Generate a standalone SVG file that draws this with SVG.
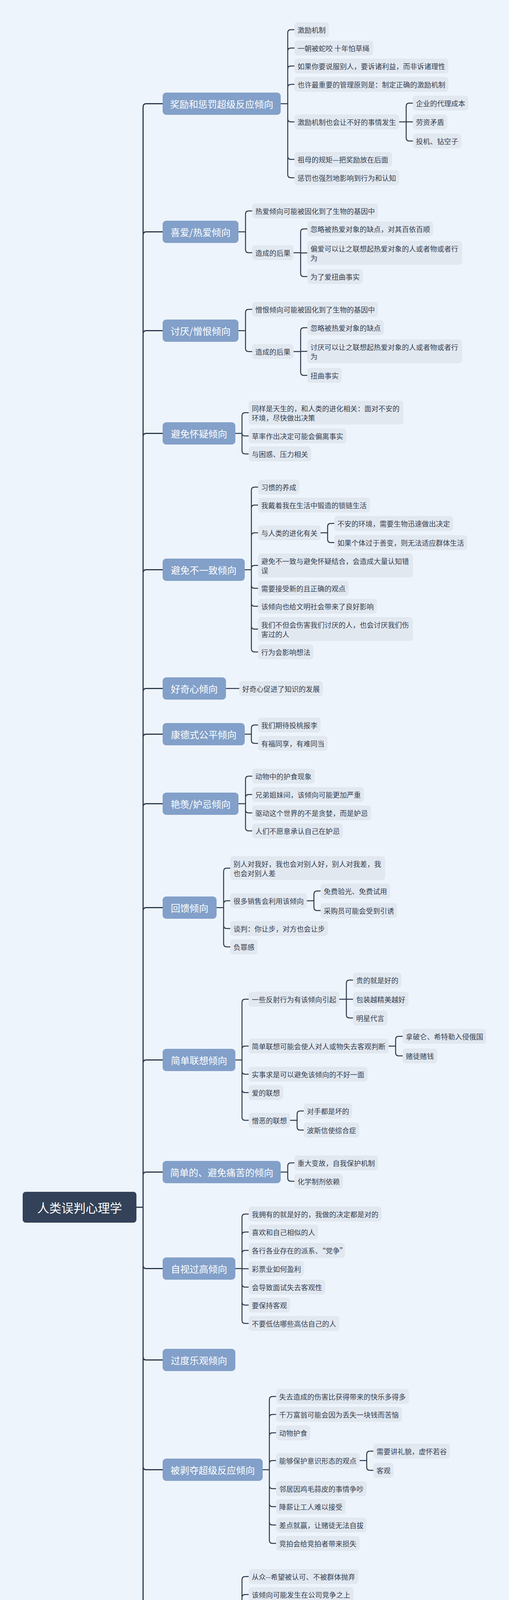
<svg xmlns="http://www.w3.org/2000/svg" width="1302" height="6000" viewBox="0 0 1302 6000">
<style>
text{font-family:"Noto Sans CJK SC","Noto Sans",sans-serif;dominant-baseline:central}
.bg{fill:#eef4fb}
.root{fill:#334258}
.m{fill:#82a0c9}
.c{fill:#e2e8f0}
.rt{font-size:31px;fill:#ffffff;text-anchor:middle}
.mt{font-size:24px;fill:#ffffff;text-anchor:middle}
.ct{font-size:18px;fill:#333f50}
.tr{fill:none;stroke:#2c3a4d;stroke-width:3}
.ln{fill:none;stroke:#2c3a4d;stroke-width:2.5}
</style>
<rect class="bg" x="0" y="0" width="1302" height="6000"/>
<g id="connectors">
<path class="tr" d="M349,3090.5H366 M366,3090.5V273.5Q366,265.5 374,265.5H416 M366,3090.5V601.5Q366,593.5 374,593.5H416 M366,3090.5V854.5Q366,846.5 374,846.5H416 M366,3090.5V1117.5Q366,1109.5 374,1109.5H416 M366,3090.5V1466.5Q366,1458.5 374,1458.5H416 M366,3090.5V1770.5Q366,1762.5 374,1762.5H416 M366,3090.5V1887.5Q366,1879.5 374,1879.5H416 M366,3090.5V2065.5Q366,2057.5 374,2057.5H416 M366,3090.5V2331.5Q366,2323.5 374,2323.5H416 M366,3090.5V2721.5Q366,2713.5 374,2713.5H416 M366,3090.5V3008.5Q366,3000.5 374,3000.5H416 M366,3090.5V3239.5Q366,3247.5 374,3247.5H416 M366,3090.5V3473.5Q366,3481.5 374,3481.5H416 M366,3090.5V3754.5Q366,3762.5 374,3762.5H416 M366,3090.5V4216.5Q366,4224.5 374,4224.5H416 M366,3090.5V4550.5Q366,4558.5 374,4558.5H416 M366,3090.5V4717.5Q366,4725.5 374,4725.5H416 M366,3090.5V4877.5Q366,4885.5 374,4885.5H416 M366,3090.5V5026.5Q366,5034.5 374,5034.5H416 M366,3090.5V5143.5Q366,5151.5 374,5151.5H416 M366,3090.5V5245.5Q366,5253.5 374,5253.5H416 M366,3090.5V5399.5Q366,5407.5 374,5407.5H416 M366,3090.5V5626.5Q366,5634.5 374,5634.5H416 M366,3090.5V5766.5Q366,5774.5 374,5774.5H416 M366,3090.5V5907.5Q366,5915.5 374,5915.5H416"/>
<path class="ln" d="M718,265.5H736 M736,265.5V84Q736,76 744,76H753 M736,265.5V131Q736,123 744,123H753 M736,265.5V177Q736,169 744,169H753 M736,265.5V224Q736,216 744,216H753 M736,265.5V304Q736,312 744,312H753 M736,265.5V400Q736,408 744,408H753 M736,265.5V447Q736,455 744,455H753"/>
<path class="ln" d="M1021,312H1039 M1039,312V272Q1039,264 1047,264H1056 M1039,312H1056 M1039,312V353Q1039,361 1047,361H1056"/>
<path class="ln" d="M610,593.5H628 M628,593.5V548Q628,540 636,540H645 M628,593.5V639Q628,647 636,647H645"/>
<path class="ln" d="M751,647H769 M769,647V594Q769,586 777,586H786 M769,647.5H786 M769,647V700Q769,708 777,708H786"/>
<path class="ln" d="M610,846.5H628 M628,846.5V800Q628,792 636,792H645 M628,846.5V892Q628,900 636,900H645"/>
<path class="ln" d="M751,900H769 M769,900V847Q769,839 777,839H786 M769,899.5H786 M769,900V953Q769,961 777,961H786"/>
<path class="ln" d="M602,1109.5H619 M619,1109.5V1064.5Q619,1056.5 627,1056.5H636 M619,1109.5Q619,1116 627,1116H636 M619,1109.5V1154Q619,1162 627,1162H636"/>
<path class="ln" d="M626,1458.5H643 M643,1458.5V1255Q643,1247 651,1247H660 M643,1458.5V1301Q643,1293 651,1293H660 M643,1458.5V1372Q643,1364 651,1364H660 M643,1458.5V1455.5Q643,1447.5 651,1447.5H660 M643,1458.5V1498Q643,1506 651,1506H660 M643,1458.5V1544Q643,1552 651,1552H660 M643,1458.5V1602.5Q643,1610.5 651,1610.5H660 M643,1458.5V1661Q643,1669 651,1669H660"/>
<path class="ln" d="M820,1364H838 M838,1364V1348Q838,1340 846,1340H855 M838,1364V1381Q838,1389 846,1389H855"/>
<path class="ln" d="M578,1762.5H612"/>
<path class="ln" d="M626,1879.5H643 M643,1879.5V1864Q643,1856 651,1856H660 M643,1879.5V1895Q643,1903 651,1903H660"/>
<path class="ln" d="M610,2057.5H628 M628,2057.5V1995Q628,1987 636,1987H645 M628,2057.5V2042Q628,2034 636,2034H645 M628,2057.5V2073Q628,2081 636,2081H645 M628,2057.5V2119Q628,2127 636,2127H645"/>
<path class="ln" d="M554,2323.5H572 M572,2323.5V2230.5Q572,2222.5 580,2222.5H589 M572,2323.5V2314Q572,2306 580,2306H589 M572,2323.5V2369Q572,2377 580,2377H589 M572,2323.5V2416Q572,2424 580,2424H589"/>
<path class="ln" d="M785,2306H803 M803,2306V2289Q803,2281 811,2281H820 M803,2306V2323Q803,2331 811,2331H820"/>
<path class="ln" d="M602,2713.5H619 M619,2713.5V2566Q619,2558 627,2558H636 M619,2713.5V2686Q619,2678 627,2678H636 M619,2713.5V2742Q619,2750 627,2750H636 M619,2713.5V2789Q619,2797 627,2797H636 M619,2713.5V2860Q619,2868 627,2868H636"/>
<path class="ln" d="M868,2558H886 M886,2558V2517Q886,2509 894,2509H903 M886,2558H903 M886,2558V2598Q886,2606 894,2606H903"/>
<path class="ln" d="M994,2678H1012 M1012,2678V2661Q1012,2653 1020,2653H1030 M1012,2678V2695Q1012,2703 1020,2703H1030"/>
<path class="ln" d="M742,2868H760 M760,2868V2852Q760,2844 768,2844H777 M760,2868V2885Q760,2893 768,2893H777"/>
<path class="ln" d="M718,3000.5H736 M736,3000.5V2985Q736,2977 744,2977H753 M736,3000.5V3016Q736,3024 744,3024H753"/>
<path class="ln" d="M602,3247.5H619 M619,3247.5V3116Q619,3108 627,3108H636 M619,3247.5V3162Q619,3154 627,3154H636 M619,3247.5V3209Q619,3201 627,3201H636 M619,3248H636 M619,3247.5V3287Q619,3295 627,3295H636 M619,3247.5V3333Q619,3341 627,3341H636 M619,3247.5V3380Q619,3388 627,3388H636"/>
<path class="ln" d="M672,3762.5H689 M689,3762.5V3583Q689,3575 697,3575H706 M689,3762.5V3629Q689,3621 697,3621H706 M689,3762.5V3676Q689,3668 697,3668H706 M689,3762.5V3747Q689,3739 697,3739H706 M689,3762.5V3803Q689,3811 697,3811H706 M689,3762.5V3849Q689,3857 697,3857H706 M689,3762.5V3896Q689,3904 697,3904H706 M689,3762.5V3943Q689,3951 697,3951H706"/>
<path class="ln" d="M920,3739H938 M938,3739V3723Q938,3715 946,3715H955 M938,3739V3756Q938,3764 946,3764H955"/>
<path class="ln" d="M602,4224.5H619 M619,4224.5V4044Q619,4036 627,4036H636 M619,4224.5V4090Q619,4082 627,4082H636 M619,4224.5V4161Q619,4153 627,4153H636 M619,4224H636 M619,4224.5V4288Q619,4296 627,4296H636 M619,4224.5V4359Q619,4367 627,4367H636 M619,4224.5V4406Q619,4414 627,4414H636"/>
<path class="ln" d="M886,4153H904 M904,4153V4137Q904,4129 912,4129H921 M904,4153V4170Q904,4178 912,4178H921"/>
<path class="ln" d="M940,4224H975"/>
<path class="ln" d="M814,4296H832 M832,4296V4279Q832,4271 840,4271H849 M832,4296V4312Q832,4320 840,4320H849"/>
<path class="ln" d="M648,4558.5H666 M666,4558.5V4531Q666,4523 674,4523H684 M666,4558.5V4586Q666,4594 674,4594H684"/>
<path class="ln" d="M988,4523H1006 M1006,4523V4506Q1006,4498 1014,4498H1023 M1006,4523V4540Q1006,4548 1014,4548H1023"/>
<path class="ln" d="M602,4725.5H619 M619,4725.5V4687Q619,4679 627,4679H636 M619,4726H636 M619,4725.5V4765Q619,4773 627,4773H636"/>
<path class="ln" d="M672,4885.5H689 M689,4885.5V4864Q689,4856 697,4856H706 M689,4885.5V4906.5Q689,4914.5 697,4914.5H706"/>
<path class="ln" d="M602,5034.5H619 M619,5034.5V5019Q619,5011 627,5011H636 M619,5034.5V5050Q619,5058 627,5058H636"/>
<path class="ln" d="M671,5407.5H689 M689,5407.5V5355Q689,5347 697,5347H706 M689,5407.5V5460Q689,5468 697,5468H706"/>
<path class="ln" d="M884,5468H902 M902,5468V5402Q902,5394 910,5394H919 M902,5468V5451Q902,5443 910,5443H919 M902,5468V5484Q902,5492 910,5492H919 M902,5468V5533Q902,5541 910,5541H919"/>
<path class="ln" d="M554,5634.5H589"/>
<path class="ln" d="M602,5774.5H619 M619,5774.5V5736Q619,5728 627,5728H636 M619,5775H636 M619,5774.5V5813Q619,5821 627,5821H636"/>
</g>

<g id="root"><rect class="root" x="58" y="3051" width="291" height="79" rx="8"/><text class="rt" x="203.5" y="3090.5">人类误判心理学</text></g>

<g id="m1"><rect class="m" x="416" y="237" width="302" height="57" rx="9"/><text class="mt" x="567" y="265.5">奖励和惩罚超级反应倾向</text></g>
<g id="m1-1"><rect class="c" x="753" y="57" width="88" height="38" rx="8"/><text class="ct" x="761" y="76">激励机制</text></g>
<g id="m1-2"><rect class="c" x="753" y="104" width="202" height="38" rx="8"/><text class="ct" x="761" y="123">一朝被蛇咬 十年怕草绳</text></g>
<g id="m1-3"><rect class="c" x="753" y="150" width="394" height="38" rx="8"/><text class="ct" x="761" y="169">如果你要说服别人，要诉诸利益，而非诉诸理性</text></g>
<g id="m1-4"><rect class="c" x="753" y="197" width="394" height="38" rx="8"/><text class="ct" x="761" y="216">也许最重要的管理原则是：制定正确的激励机制</text></g>
<g id="m1-5"><rect class="c" x="753" y="293" width="268" height="38" rx="8"/><text class="ct" x="761" y="312">激励机制也会让不好的事情发生</text></g>
<g id="m1-5-1"><rect class="c" x="1056" y="245" width="142" height="38" rx="8"/><text class="ct" x="1064" y="264">企业的代理成本</text></g>
<g id="m1-5-2"><rect class="c" x="1056" y="293" width="88" height="38" rx="8"/><text class="ct" x="1064" y="312">劳资矛盾</text></g>
<g id="m1-5-3"><rect class="c" x="1056" y="342" width="124" height="38" rx="8"/><text class="ct" x="1064" y="361">投机、钻空子</text></g>
<g id="m1-6"><rect class="c" x="753" y="389" width="250" height="38" rx="8"/><text class="ct" x="761" y="408">祖母的规矩—把奖励放在后面</text></g>
<g id="m1-7"><rect class="c" x="753" y="436" width="268" height="38" rx="8"/><text class="ct" x="761" y="455">惩罚也强烈地影响到行为和认知</text></g>

<g id="m2"><rect class="m" x="416" y="565" width="194" height="57" rx="9"/><text class="mt" x="513" y="593.5">喜爱/热爱倾向</text></g>
<g id="m2-1"><rect class="c" x="645" y="521" width="322" height="38" rx="8"/><text class="ct" x="653" y="540">热爱倾向可能被固化到了生物的基因中</text></g>
<g id="m2-2"><rect class="c" x="645" y="628" width="106" height="38" rx="8"/><text class="ct" x="653" y="647">造成的后果</text></g>
<g id="m2-2-1"><rect class="c" x="786" y="567" width="322" height="38" rx="8"/><text class="ct" x="794" y="586">忽略被热爱对象的缺点，对其百依百顺</text></g>
<g id="m2-2-2"><rect class="c" x="786" y="617" width="396" height="61" rx="8"/><text class="ct" x="794" y="636">偏爱可以让之联想起热爱对象的人或者物或者行</text><text class="ct" x="794" y="660">为</text></g>
<g id="m2-2-3"><rect class="c" x="786" y="689" width="142" height="38" rx="8"/><text class="ct" x="794" y="708">为了爱扭曲事实</text></g>

<g id="m3"><rect class="m" x="416" y="818" width="194" height="57" rx="9"/><text class="mt" x="513" y="846.5">讨厌/憎恨倾向</text></g>
<g id="m3-1"><rect class="c" x="645" y="773" width="322" height="38" rx="8"/><text class="ct" x="653" y="792">憎恨倾向可能被固化到了生物的基因中</text></g>
<g id="m3-2"><rect class="c" x="645" y="881" width="106" height="38" rx="8"/><text class="ct" x="653" y="900">造成的后果</text></g>
<g id="m3-2-1"><rect class="c" x="786" y="820" width="196" height="38" rx="8"/><text class="ct" x="794" y="839">忽略被热爱对象的缺点</text></g>
<g id="m3-2-2"><rect class="c" x="786" y="869" width="396" height="61" rx="8"/><text class="ct" x="794" y="888">讨厌可以让之联想起热爱对象的人或者物或者行</text><text class="ct" x="794" y="912">为</text></g>
<g id="m3-2-3"><rect class="c" x="786" y="942" width="88" height="38" rx="8"/><text class="ct" x="794" y="961">扭曲事实</text></g>

<g id="m4"><rect class="m" x="416" y="1081" width="186" height="57" rx="9"/><text class="mt" x="509" y="1109.5">避免怀疑倾向</text></g>
<g id="m4-1"><rect class="c" x="636" y="1026" width="396" height="61" rx="8"/><text class="ct" x="644" y="1045">同样是天生的，和人类的进化相关：面对不安的</text><text class="ct" x="644" y="1069">环境，尽快做出决策</text></g>
<g id="m4-2"><rect class="c" x="636" y="1097" width="250" height="38" rx="8"/><text class="ct" x="644" y="1116">草率作出决定可能会偏离事实</text></g>
<g id="m4-3"><rect class="c" x="636" y="1143" width="160" height="38" rx="8"/><text class="ct" x="644" y="1162">与困惑、压力相关</text></g>

<g id="m5"><rect class="m" x="416" y="1430" width="210" height="57" rx="9"/><text class="mt" x="521" y="1458.5">避免不一致倾向</text></g>
<g id="m5-1"><rect class="c" x="660" y="1228" width="106" height="38" rx="8"/><text class="ct" x="668" y="1247">习惯的养成</text></g>
<g id="m5-2"><rect class="c" x="660" y="1274" width="286" height="38" rx="8"/><text class="ct" x="668" y="1293">我戴着我在生活中锻造的锁链生活</text></g>
<g id="m5-3"><rect class="c" x="660" y="1345" width="160" height="38" rx="8"/><text class="ct" x="668" y="1364">与人类的进化有关</text></g>
<g id="m5-3-1"><rect class="c" x="855" y="1321" width="304" height="38" rx="8"/><text class="ct" x="863" y="1340">不安的环境，需要生物迅速做出决定</text></g>
<g id="m5-3-2"><rect class="c" x="855" y="1370" width="340" height="38" rx="8"/><text class="ct" x="863" y="1389">如果个体过于善变，则无法适应群体生活</text></g>
<g id="m5-4"><rect class="c" x="660" y="1417" width="396" height="61" rx="8"/><text class="ct" x="668" y="1436">避免不一致与避免怀疑结合，会造成大量认知错</text><text class="ct" x="668" y="1460">误</text></g>
<g id="m5-5"><rect class="c" x="660" y="1487" width="232" height="38" rx="8"/><text class="ct" x="668" y="1506">需要接受新的且正确的观点</text></g>
<g id="m5-6"><rect class="c" x="660" y="1533" width="304" height="38" rx="8"/><text class="ct" x="668" y="1552">该倾向也给文明社会带来了良好影响</text></g>
<g id="m5-7"><rect class="c" x="660" y="1580" width="396" height="61" rx="8"/><text class="ct" x="668" y="1599">我们不但会伤害我们讨厌的人，也会讨厌我们伤</text><text class="ct" x="668" y="1623">害过的人</text></g>
<g id="m5-8"><rect class="c" x="660" y="1650" width="142" height="38" rx="8"/><text class="ct" x="668" y="1669">行为会影响想法</text></g>

<g id="m6"><rect class="m" x="416" y="1734" width="162" height="57" rx="9"/><text class="mt" x="497" y="1762.5">好奇心倾向</text></g>
<g id="m6-1"><rect class="c" x="612" y="1744" width="214" height="38" rx="8"/><text class="ct" x="620" y="1763">好奇心促进了知识的发展</text></g>

<g id="m7"><rect class="m" x="416" y="1851" width="210" height="57" rx="9"/><text class="mt" x="521" y="1879.5">康德式公平倾向</text></g>
<g id="m7-1"><rect class="c" x="660" y="1837" width="160" height="38" rx="8"/><text class="ct" x="668" y="1856">我们期待投桃报李</text></g>
<g id="m7-2"><rect class="c" x="660" y="1884" width="178" height="38" rx="8"/><text class="ct" x="668" y="1903">有福同享，有难同当</text></g>

<g id="m8"><rect class="m" x="416" y="2029" width="194" height="57" rx="9"/><text class="mt" x="513" y="2057.5">艳羡/妒忌倾向</text></g>
<g id="m8-1"><rect class="c" x="645" y="1968" width="160" height="38" rx="8"/><text class="ct" x="653" y="1987">动物中的护食现象</text></g>
<g id="m8-2"><rect class="c" x="645" y="2015" width="286" height="38" rx="8"/><text class="ct" x="653" y="2034">兄弟姐妹间，该倾向可能更加严重</text></g>
<g id="m8-3"><rect class="c" x="645" y="2062" width="304" height="38" rx="8"/><text class="ct" x="653" y="2081">驱动这个世界的不是贪婪，而是妒忌</text></g>
<g id="m8-4"><rect class="c" x="645" y="2108" width="232" height="38" rx="8"/><text class="ct" x="653" y="2127">人们不愿意承认自己在妒忌</text></g>

<g id="m9"><rect class="m" x="416" y="2295" width="138" height="57" rx="9"/><text class="mt" x="485" y="2323.5">回馈倾向</text></g>
<g id="m9-1"><rect class="c" x="589" y="2192" width="396" height="61" rx="8"/><text class="ct" x="597" y="2211">别人对我好，我也会对别人好，别人对我差，我</text><text class="ct" x="597" y="2235">也会对别人差</text></g>
<g id="m9-2"><rect class="c" x="589" y="2287" width="196" height="38" rx="8"/><text class="ct" x="597" y="2306">很多销售会利用该倾向</text></g>
<g id="m9-2-1"><rect class="c" x="820" y="2262" width="178" height="38" rx="8"/><text class="ct" x="828" y="2281">免费验光、免费试用</text></g>
<g id="m9-2-2"><rect class="c" x="820" y="2312" width="196" height="38" rx="8"/><text class="ct" x="828" y="2331">采购员可能会受到引诱</text></g>
<g id="m9-3"><rect class="c" x="589" y="2358" width="250" height="38" rx="8"/><text class="ct" x="597" y="2377">谈判：你让步，对方也会让步</text></g>
<g id="m9-4"><rect class="c" x="589" y="2405" width="70" height="38" rx="8"/><text class="ct" x="597" y="2424">负罪感</text></g>

<g id="m10"><rect class="m" x="416" y="2685" width="186" height="57" rx="9"/><text class="mt" x="509" y="2713.5">简单联想倾向</text></g>
<g id="m10-1"><rect class="c" x="636" y="2539" width="232" height="38" rx="8"/><text class="ct" x="644" y="2558">一些反射行为有该倾向引起</text></g>
<g id="m10-1-1"><rect class="c" x="903" y="2490" width="124" height="38" rx="8"/><text class="ct" x="911" y="2509">贵的就是好的</text></g>
<g id="m10-1-2"><rect class="c" x="903" y="2539" width="142" height="38" rx="8"/><text class="ct" x="911" y="2558">包装越精美越好</text></g>
<g id="m10-1-3"><rect class="c" x="903" y="2587" width="88" height="38" rx="8"/><text class="ct" x="911" y="2606">明星代言</text></g>
<g id="m10-2"><rect class="c" x="636" y="2659" width="358" height="38" rx="8"/><text class="ct" x="644" y="2678">简单联想可能会使人对人或物失去客观判断</text></g>
<g id="m10-2-1"><rect class="c" x="1030" y="2634" width="214" height="38" rx="8"/><text class="ct" x="1038" y="2653">拿破仑、希特勒入侵俄国</text></g>
<g id="m10-2-2"><rect class="c" x="1030" y="2684" width="88" height="38" rx="8"/><text class="ct" x="1038" y="2703">赌徒赌钱</text></g>
<g id="m10-3"><rect class="c" x="636" y="2731" width="304" height="38" rx="8"/><text class="ct" x="644" y="2750">实事求是可以避免该倾向的不好一面</text></g>
<g id="m10-4"><rect class="c" x="636" y="2778" width="88" height="38" rx="8"/><text class="ct" x="644" y="2797">爱的联想</text></g>
<g id="m10-5"><rect class="c" x="636" y="2849" width="106" height="38" rx="8"/><text class="ct" x="644" y="2868">憎恶的联想</text></g>
<g id="m10-5-1"><rect class="c" x="777" y="2825" width="124" height="38" rx="8"/><text class="ct" x="785" y="2844">对手都是坏的</text></g>
<g id="m10-5-2"><rect class="c" x="777" y="2874" width="142" height="38" rx="8"/><text class="ct" x="785" y="2893">波斯信使综合症</text></g>

<g id="m11"><rect class="m" x="416" y="2972" width="302" height="57" rx="9"/><text class="mt" x="567" y="3000.5">简单的、避免痛苦的倾向</text></g>
<g id="m11-1"><rect class="c" x="753" y="2958" width="214" height="38" rx="8"/><text class="ct" x="761" y="2977">重大变故，自我保护机制</text></g>
<g id="m11-2"><rect class="c" x="753" y="3005" width="124" height="38" rx="8"/><text class="ct" x="761" y="3024">化学制剂依赖</text></g>

<g id="m12"><rect class="m" x="416" y="3219" width="186" height="57" rx="9"/><text class="mt" x="509" y="3247.5">自视过高倾向</text></g>
<g id="m12-1"><rect class="c" x="636" y="3089" width="340" height="38" rx="8"/><text class="ct" x="644" y="3108">我拥有的就是好的，我做的决定都是对的</text></g>
<g id="m12-2"><rect class="c" x="636" y="3135" width="178" height="38" rx="8"/><text class="ct" x="644" y="3154">喜欢和自己相似的人</text></g>
<g id="m12-3"><rect class="c" x="636" y="3182" width="246" height="38" rx="8"/><text class="ct" x="644" y="3201">各行各业存在的派系、“党争”</text></g>
<g id="m12-4"><rect class="c" x="636" y="3229" width="142" height="38" rx="8"/><text class="ct" x="644" y="3248">彩票业如何盈利</text></g>
<g id="m12-5"><rect class="c" x="636" y="3276" width="196" height="38" rx="8"/><text class="ct" x="644" y="3295">会导致面试失去客观性</text></g>
<g id="m12-6"><rect class="c" x="636" y="3322" width="106" height="38" rx="8"/><text class="ct" x="644" y="3341">要保持客观</text></g>
<g id="m12-7"><rect class="c" x="636" y="3369" width="232" height="38" rx="8"/><text class="ct" x="644" y="3388">不要低估哪些高估自己的人</text></g>

<g id="m13"><rect class="m" x="416" y="3453" width="186" height="57" rx="9"/><text class="mt" x="509" y="3481.5">过度乐观倾向</text></g>

<g id="m14"><rect class="m" x="416" y="3734" width="256" height="57" rx="9"/><text class="mt" x="544" y="3762.5">被剥夺超级反应倾向</text></g>
<g id="m14-1"><rect class="c" x="706" y="3556" width="340" height="38" rx="8"/><text class="ct" x="714" y="3575">失去造成的伤害比获得带来的快乐多得多</text></g>
<g id="m14-2"><rect class="c" x="706" y="3602" width="322" height="38" rx="8"/><text class="ct" x="714" y="3621">千万富翁可能会因为丢失一块钱而苦恼</text></g>
<g id="m14-3"><rect class="c" x="706" y="3649" width="88" height="38" rx="8"/><text class="ct" x="714" y="3668">动物护食</text></g>
<g id="m14-4"><rect class="c" x="706" y="3720" width="214" height="38" rx="8"/><text class="ct" x="714" y="3739">能够保护意识形态的观点</text></g>
<g id="m14-4-1"><rect class="c" x="955" y="3696" width="196" height="38" rx="8"/><text class="ct" x="963" y="3715">需要讲礼貌，虚怀若谷</text></g>
<g id="m14-4-2"><rect class="c" x="955" y="3745" width="52" height="38" rx="8"/><text class="ct" x="963" y="3764">客观</text></g>
<g id="m14-5"><rect class="c" x="706" y="3792" width="232" height="38" rx="8"/><text class="ct" x="714" y="3811">邻居因鸡毛蒜皮的事情争吵</text></g>
<g id="m14-6"><rect class="c" x="706" y="3838" width="178" height="38" rx="8"/><text class="ct" x="714" y="3857">降薪让工人难以接受</text></g>
<g id="m14-7"><rect class="c" x="706" y="3885" width="232" height="38" rx="8"/><text class="ct" x="714" y="3904">差点就赢，让赌徒无法自拔</text></g>
<g id="m14-8"><rect class="c" x="706" y="3932" width="214" height="38" rx="8"/><text class="ct" x="714" y="3951">竞拍会给竞拍者带来损失</text></g>

<g id="m15"><rect class="m" x="416" y="4196" width="186" height="57" rx="9"/><text class="mt" x="509" y="4224.5">社会认同倾向</text></g>
<g id="m15-1"><rect class="c" x="636" y="4017" width="281" height="38" rx="8"/><text class="ct" x="644" y="4036">从众--希望被认可、不被群体抛弃</text></g>
<g id="m15-2"><rect class="c" x="636" y="4063" width="268" height="38" rx="8"/><text class="ct" x="644" y="4082">该倾向可能发生在公司竞争之上</text></g>
<g id="m15-3"><rect class="c" x="636" y="4134" width="250" height="38" rx="8"/><text class="ct" x="644" y="4153">困惑、压力大时会加重该倾向</text></g>
<g id="m15-3-1"><rect class="c" x="921" y="4110" width="142" height="38" rx="8"/><text class="ct" x="929" y="4129">销售采用的手段</text></g>
<g id="m15-3-2"><rect class="c" x="921" y="4159" width="52" height="38" rx="8"/><text class="ct" x="929" y="4178">邪教</text></g>
<g id="m15-4"><rect class="c" x="636" y="4205" width="304" height="38" rx="8"/><text class="ct" x="644" y="4224">好行为、坏行为都会通过该倾向传播</text></g>
<g id="m15-4-1"><rect class="c" x="975" y="4205" width="106" height="38" rx="8"/><text class="ct" x="983" y="4224">劣币逐良币</text></g>
<g id="m15-5"><rect class="c" x="636" y="4277" width="178" height="38" rx="8"/><text class="ct" x="644" y="4296">也会受到不行动误导</text></g>
<g id="m15-5-1"><rect class="c" x="849" y="4252" width="142" height="38" rx="8"/><text class="ct" x="857" y="4271">不作为也会传播</text></g>
<g id="m15-5-2"><rect class="c" x="849" y="4301" width="88" height="38" rx="8"/><text class="ct" x="857" y="4320">扶不扶？</text></g>
<g id="m15-6"><rect class="c" x="636" y="4348" width="178" height="38" rx="8"/><text class="ct" x="644" y="4367">电影、电视植入广告</text></g>
<g id="m15-7"><rect class="c" x="636" y="4395" width="340" height="38" rx="8"/><text class="ct" x="644" y="4414">学会在他人犯错的时候，不以他们为榜样</text></g>

<g id="m16"><rect class="m" x="416" y="4530" width="232" height="57" rx="9"/><text class="mt" x="532" y="4558.5">对比错误反应倾向</text></g>
<g id="m16-1"><rect class="c" x="684" y="4504" width="304" height="38" rx="8"/><text class="ct" x="692" y="4523">认知与感官一样都会受到对比的影响</text></g>
<g id="m16-1-1"><rect class="c" x="1023" y="4479" width="210" height="38" rx="8"/><text class="ct" x="1031" y="4498">1000万的车，2万的座椅</text></g>
<g id="m16-1-2"><rect class="c" x="1023" y="4529" width="142" height="38" rx="8"/><text class="ct" x="1031" y="4548">销售采用的手段</text></g>
<g id="m16-2"><rect class="c" x="684" y="4575" width="106" height="38" rx="8"/><text class="ct" x="692" y="4594">温水煮青蛙</text></g>

<g id="m17"><rect class="m" x="416" y="4697" width="186" height="57" rx="9"/><text class="mt" x="509" y="4725.5">压力影响倾向</text></g>
<g id="m17-1"><rect class="c" x="636" y="4660" width="232" height="38" rx="8"/><text class="ct" x="644" y="4679">适度的压力能改善人的表现</text></g>
<g id="m17-2"><rect class="c" x="636" y="4707" width="196" height="38" rx="8"/><text class="ct" x="644" y="4726">沉重的压力会引发失调</text></g>
<g id="m17-3"><rect class="c" x="636" y="4754" width="196" height="38" rx="8"/><text class="ct" x="644" y="4773">压力可能造成心理问题</text></g>

<g id="m18"><rect class="m" x="416" y="4857" width="256" height="57" rx="9"/><text class="mt" x="544" y="4885.5">错误衡量易得性倾向</text></g>
<g id="m18-1"><rect class="c" x="706" y="4837" width="268" height="38" rx="8"/><text class="ct" x="714" y="4856">人会高估容易得到东西的重要性</text></g>
<g id="m18-2"><rect class="c" x="706" y="4884" width="396" height="61" rx="8"/><text class="ct" x="714" y="4903">别只是因为一样事实或者观念重要，就觉得它更</text><text class="ct" x="714" y="4927">重要</text></g>

<g id="m19"><rect class="m" x="416" y="5006" width="186" height="57" rx="9"/><text class="mt" x="509" y="5034.5">不用就忘倾向</text></g>
<g id="m19-1"><rect class="c" x="636" y="4992" width="214" height="38" rx="8"/><text class="ct" x="644" y="5011">所有的技能不用就会退化</text></g>
<g id="m19-2"><rect class="c" x="636" y="5039" width="322" height="38" rx="8"/><text class="ct" x="644" y="5058">许多技能唯有练习，才能维持高的水准</text></g>

<g id="m20"><rect class="m" x="416" y="5123" width="280" height="57" rx="9"/><text class="mt" x="556" y="5151.5">化学物质错误影响倾向</text></g>

<g id="m21"><rect class="m" x="416" y="5225" width="248" height="57" rx="9"/><text class="mt" x="540" y="5253.5">衰老--错误影响倾向</text></g>

<g id="m22"><rect class="m" x="416" y="5379" width="255" height="57" rx="9"/><text class="mt" x="543.5" y="5407.5">权威 --错误影响倾向</text></g>
<g id="m22-1"><rect class="c" x="706" y="5328" width="358" height="38" rx="8"/><text class="ct" x="714" y="5347">社会等级分明，人天生具有追随领袖的倾向</text></g>
<g id="m22-2"><rect class="c" x="706" y="5449" width="178" height="38" rx="8"/><text class="ct" x="714" y="5468">该倾向造成认知错误</text></g>
<g id="m22-2-1"><rect class="c" x="919" y="5375" width="166" height="38" rx="8"/><text class="ct" x="927" y="5394">护士--医生--诊断单</text></g>
<g id="m22-2-2"><rect class="c" x="919" y="5424" width="166" height="38" rx="8"/><text class="ct" x="927" y="5443">二战--飞行员--将军</text></g>
<g id="m22-2-3"><rect class="c" x="919" y="5473" width="106" height="38" rx="8"/><text class="ct" x="927" y="5492">元首希特勒</text></g>
<g id="m22-2-4"><rect class="c" x="919" y="5522" width="178" height="38" rx="8"/><text class="ct" x="927" y="5541">米尔格拉姆服从实验</text></g>

<g id="m23"><rect class="m" x="416" y="5606" width="138" height="57" rx="9"/><text class="mt" x="485" y="5634.5">废话倾向</text></g>
<g id="m23-1"><rect class="c" x="589" y="5615" width="196" height="38" rx="8"/><text class="ct" x="597" y="5634">蜜蜂传递错误信息实现</text></g>

<g id="m24"><rect class="m" x="416" y="5746" width="186" height="57" rx="9"/><text class="mt" x="509" y="5774.5">重视理由倾向</text></g>
<g id="m24-1"><rect class="c" x="636" y="5709" width="196" height="38" rx="8"/><text class="ct" x="644" y="5728">人天生就爱准确的认知</text></g>
<g id="m24-2"><rect class="c" x="636" y="5756" width="304" height="38" rx="8"/><text class="ct" x="644" y="5775">传递知识时候，还有传递背后的原因</text></g>
<g id="m24-3"><rect class="c" x="636" y="5802" width="394" height="38" rx="8"/><text class="ct" x="644" y="5821">一个人给出的理由即使无意义也有更容易被遵从</text></g>

<g id="m25"><rect class="m" x="416" y="5887" width="280" height="57" rx="9"/><text class="mt" x="556" y="5915.5">数种心理倾向结合倾向</text></g>
</svg>
